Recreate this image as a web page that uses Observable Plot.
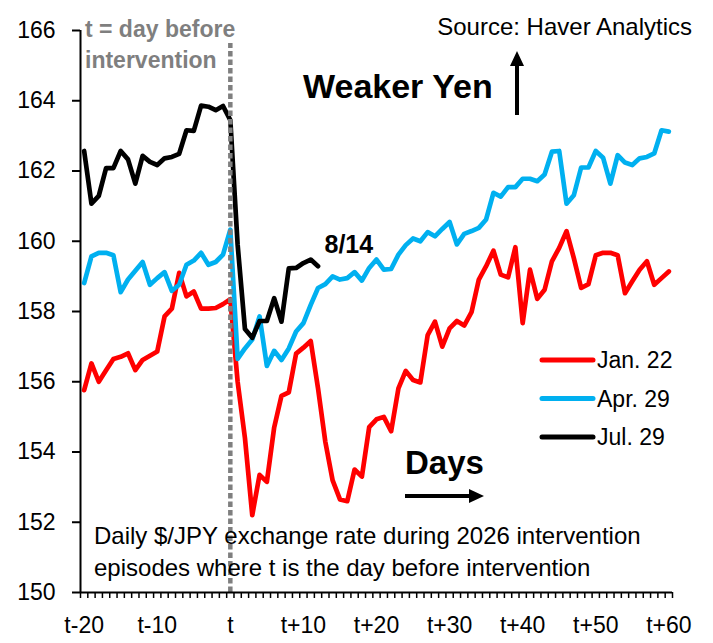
<!DOCTYPE html>
<html>
<head>
<meta charset="utf-8">
<script src="https://cdn.jsdelivr.net/npm/d3@7"></script>
<script src="https://cdn.jsdelivr.net/npm/@observablehq/plot@0.6"></script>
<style>
  html, body { margin: 0; padding: 0; background: #fff; }
  #chart { position: relative; width: 713px; height: 643px; }
</style>
</head>
<body>
<div id="chart"></div>
<script>
// Day offsets relative to t (day before intervention)
const days = d3.range(-20, 61);

// Tick labels
const xLabelDays = [-20, -10, 0, 10, 20, 30, 40, 50, 60];
const xLabels = ["t-20", "t-10", "t", "t+10", "t+20", "t+30", "t+40", "t+50", "t+60"];
const yTicks = [150, 152, 154, 156, 158, 160, 162, 164, 166];

// Series names / colors
const seriesNames = ["Jan. 22", "Apr. 29", "Jul. 29"];
const seriesColors = ["#FF0000", "#00B0F0", "#000000"];

// $/JPY values, t-20 ... t+60
const jan22 = [
  155.76, 156.52, 156.00, 156.33, 156.65, 156.71, 156.81, 156.33, 156.62, 156.74,
  156.86, 157.86, 158.08, 159.10, 158.43, 158.57, 158.08, 158.08, 158.10, 158.21,
  158.35,
  156.00, 154.40, 152.20, 153.35, 153.15, 154.70, 155.60, 155.70, 156.80, 156.97,
  157.16, 155.81, 154.29, 153.19, 152.65, 152.60, 153.50, 153.30, 154.71, 154.93,
  155.00, 154.59, 155.81, 156.31, 156.05, 155.98, 157.33, 157.71, 157.00, 157.52,
  157.73, 157.60, 157.98, 158.91, 159.29, 159.73, 159.05, 158.97, 159.83, 157.67,
  159.19, 158.36, 158.62, 159.43, 159.81, 160.29, 159.52, 158.67, 158.78, 159.60,
  159.67, 159.67, 159.60, 158.52, 158.86, 159.19, 159.43, 158.76, 158.95, 159.14
];
const apr29 = [
  158.81, 159.57, 159.67, 159.67, 159.60, 158.55, 158.91, 159.16, 159.41, 158.76,
  158.95, 159.12, 158.59, 158.76, 159.33, 159.45, 159.67, 159.33, 159.41, 159.62,
  160.33,
  156.65, 156.95, 157.20, 157.86, 156.45, 156.88, 156.62, 156.95, 157.43, 157.67,
  158.19, 158.67, 158.78, 159.00, 158.91, 158.95, 159.12, 158.88, 159.24, 159.48,
  159.19, 159.21, 159.62, 159.89, 160.08, 160.00, 160.26, 160.14, 160.35, 160.55,
  159.91, 160.21, 160.29, 160.38, 160.62, 161.38, 161.27, 161.54, 161.54, 161.78,
  161.78, 161.71, 161.90, 162.55, 162.57, 161.07, 161.31, 162.10, 162.10, 162.57,
  162.38, 161.64, 162.45, 162.24, 162.17, 162.36, 162.40, 162.50, 163.16, 163.12
];
const jul29 = [
  162.57, 161.07, 161.29, 162.08, 162.08, 162.57, 162.33, 161.64, 162.43, 162.26,
  162.17, 162.36, 162.40, 162.49, 163.16, 163.14, 163.86, 163.83, 163.73, 163.85,
  163.45,
  159.90, 157.50, 157.25, 157.73, 157.73, 158.38, 157.71, 159.23, 159.24, 159.38,
  159.48, 159.29
];
const lastLabel = "8/14";

// Build long table
const seriesValues = [jan22, apr29, jul29];
const rows = seriesNames.flatMap((name, k) =>
  seriesValues[k].map((v, i) => ({series: name, day: days[i], value: v}))
);

const xDomain = [days[0] - 0.5, days[days.length - 1] + 0.5];
const yDomain = [yTicks[0], yTicks[yTicks.length - 1]];
const boundaries = days.map(d => d - 0.5).concat([days[days.length - 1] + 0.5]);
const font = "'Liberation Sans', Arial, sans-serif";

const chart = Plot.plot({
  width: 713,
  height: 643,
  marginLeft: 80,
  marginRight: 41,
  marginTop: 30,
  marginBottom: 51,
  style: {fontFamily: font, fontSize: "23px", background: "#fff", color: "#000", overflow: "visible"},
  x: {domain: xDomain},
  y: {domain: yDomain},
  color: {domain: seriesNames, range: seriesColors},
  marks: [
    Plot.line(rows, {x: "day", y: "value", z: "series", stroke: "series",
      strokeWidth: 4.7, strokeLinejoin: "round", strokeLinecap: "round"}),
    Plot.ruleX([0], {y1: yDomain[0], y2: 165.63, stroke: "#7F7F7F", strokeWidth: 4.5, strokeDasharray: "5.5,3"}),
    Plot.ruleX([xDomain[0]], {stroke: "#000", strokeWidth: 2}),
    Plot.ruleY([yDomain[0]], {stroke: "#000", strokeWidth: 2}),
    Plot.axisY({ticks: yTicks, tickSize: 8, tickPadding: 17, label: null, fontSize: 23, strokeWidth: 2}),
    Plot.axisX({ticks: boundaries, tickSize: 6, tickFormat: () => "", label: null, strokeWidth: 1.5}),
    Plot.axisX({ticks: xLabelDays, tickSize: 0, tickPadding: 24, label: null, fontSize: 23,
      tickFormat: d => xLabels[xLabelDays.indexOf(d)]})
  ]
});

document.getElementById("chart").appendChild(chart);

// Annotations drawn on top with d3
const svg = d3.select(chart);
const sx = chart.scale("x"), sy = chart.scale("y"), sc = chart.scale("color");
const g = svg.append("g").attr("font-family", font);

function txt(x, y, s, opts = {}) {
  g.append("text").attr("x", x).attr("y", y).text(s)
    .attr("font-size", opts.size || 23)
    .attr("font-weight", opts.weight || "normal")
    .attr("fill", opts.fill || "#000")
    .attr("text-anchor", opts.anchor || "start");
}

// Intervention note
txt(85, 37, "t = day before", {weight: "bold", fill: "#7F7F7F"});
txt(85, 68, "intervention", {weight: "bold", fill: "#7F7F7F"});

// Source
txt(692, 35, "Source: Haver Analytics", {size: 24, anchor: "end"});

// Weaker Yen + up arrow
txt(303, 98, "Weaker Yen", {size: 34, weight: "bold"});
g.append("line").attr("x1", 517).attr("x2", 517).attr("y1", 115).attr("y2", 64)
  .attr("stroke", "#000").attr("stroke-width", 4);
g.append("path").attr("d", "M517,51 L510,66 L524,66 Z").attr("fill", "#000");

// 8/14 label near end of Jul. 29
const lastIdx = jul29.length - 1;
txt(sx.apply(days[lastIdx]) + 7, sy.apply(jul29[lastIdx]) - 13, lastLabel, {size: 25, weight: "bold"});

// Legend
seriesNames.forEach((name, i) => {
  const y = 360 + i * 38.5;
  g.append("line").attr("x1", 542).attr("x2", 593).attr("y1", y).attr("y2", y)
    .attr("stroke", sc.apply(name)).attr("stroke-width", 5).attr("stroke-linecap", "round");
  txt(597, y + 8, name, {size: 23});
});

// Days + right arrow
txt(405, 474, "Days", {size: 33, weight: "bold"});
g.append("line").attr("x1", 405).attr("x2", 470).attr("y1", 496).attr("y2", 496)
  .attr("stroke", "#000").attr("stroke-width", 4);
g.append("path").attr("d", "M484,496 L469,489 L469,503 Z").attr("fill", "#000");

// Bottom description
txt(94, 544, "Daily $/JPY exchange rate during 2026 intervention", {size: 24});
txt(94, 576, "episodes where t is the day before intervention", {size: 24});
</script>
</body>
</html>
